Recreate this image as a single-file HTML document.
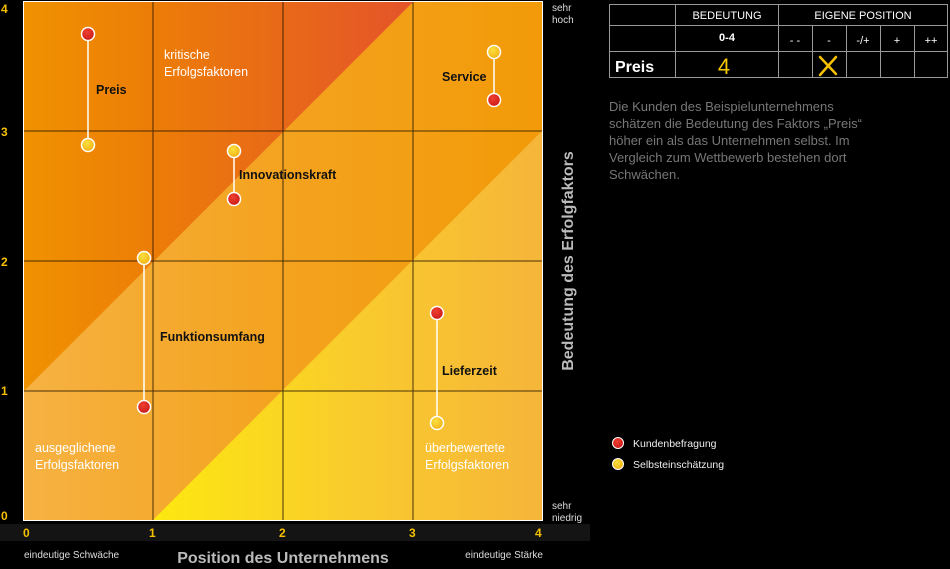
<!DOCTYPE html>
<html><head><meta charset="utf-8"><style>
html,body{margin:0;padding:0;background:#000;}
svg{display:block;font-family:"Liberation Sans",sans-serif;}
</style></head><body>
<svg width="950" height="569" viewBox="0 0 950 569" xmlns="http://www.w3.org/2000/svg">
<defs>
<linearGradient id="gTop" x1="23" y1="0" x2="413" y2="0" gradientUnits="userSpaceOnUse">
<stop offset="0" stop-color="#f09200"/><stop offset="0.35" stop-color="#ec7c08"/><stop offset="1" stop-color="#e4542a"/></linearGradient>
<linearGradient id="gMid" x1="23" y1="0" x2="543" y2="0" gradientUnits="userSpaceOnUse">
<stop offset="0" stop-color="#f6b242"/><stop offset="0.45" stop-color="#f4a422"/><stop offset="1" stop-color="#f29a08"/></linearGradient>
<linearGradient id="gLow" x1="153" y1="0" x2="543" y2="0" gradientUnits="userSpaceOnUse">
<stop offset="0" stop-color="#fce810"/><stop offset="0.5" stop-color="#f9cc2c"/><stop offset="1" stop-color="#f6b53a"/></linearGradient>
<radialGradient id="rd" cx="0.4" cy="0.35" r="0.7"><stop offset="0" stop-color="#f04030"/><stop offset="1" stop-color="#c81818"/></radialGradient>
<radialGradient id="yd" cx="0.4" cy="0.35" r="0.7"><stop offset="0" stop-color="#fde040"/><stop offset="1" stop-color="#f0b010"/></radialGradient>
</defs>
<rect x="0" y="0" width="950" height="569" fill="#000"/>
<!-- x label band -->
<rect x="0" y="524" width="590" height="17" fill="#141414"/>
<!-- plot -->
<rect x="23" y="1" width="520" height="520" fill="#fff"/>
<polygon points="24,2 542,2 542,520 24,520" fill="url(#gMid)"/>
<polygon points="24,391 24,2 413,2" fill="url(#gTop)"/>
<polygon points="153,520 542,131 542,520" fill="url(#gLow)"/>
<g stroke="#2a1a00" stroke-width="1" opacity="0.85">
<line x1="153" y1="2" x2="153" y2="520"/><line x1="283" y1="2" x2="283" y2="520"/><line x1="413" y1="2" x2="413" y2="520"/>
<line x1="24" y1="131" x2="542" y2="131"/><line x1="24" y1="261" x2="542" y2="261"/><line x1="24" y1="391" x2="542" y2="391"/>
</g>
<!-- connectors -->
<g stroke="#fff" stroke-width="1.5">
<line x1="88" y1="34" x2="88" y2="145"/><line x1="234" y1="151" x2="234" y2="199"/>
<line x1="144" y1="258" x2="144" y2="407"/><line x1="494" y1="52" x2="494" y2="100"/>
<line x1="437" y1="313" x2="437" y2="423"/>
</g>
<g stroke="#fff" stroke-width="1.5">
<circle cx="88" cy="34" r="6.5" fill="url(#rd)"/><circle cx="88" cy="145" r="6.5" fill="url(#yd)"/>
<circle cx="234" cy="151" r="6.5" fill="url(#yd)"/><circle cx="234" cy="199" r="6.5" fill="url(#rd)"/>
<circle cx="144" cy="258" r="6.5" fill="url(#yd)"/><circle cx="144" cy="407" r="6.5" fill="url(#rd)"/>
<circle cx="494" cy="52" r="6.5" fill="url(#yd)"/><circle cx="494" cy="100" r="6.5" fill="url(#rd)"/>
<circle cx="437" cy="313" r="6.5" fill="url(#rd)"/><circle cx="437" cy="423" r="6.5" fill="url(#yd)"/>
</g>
<g font-size="12.5" fill="#fff">
<text x="164" y="59">kritische</text><text x="164" y="76">Erfolgsfaktoren</text>
<text x="35" y="452">ausgeglichene</text><text x="35" y="469">Erfolgsfaktoren</text>
<text x="425" y="452">überbewertete</text><text x="425" y="469">Erfolgsfaktoren</text>
</g>
<g font-size="12.5" font-weight="bold" fill="#111">
<text x="96" y="94">Preis</text><text x="442" y="81">Service</text>
<text x="239" y="179">Innovationskraft</text><text x="160" y="341">Funktionsumfang</text>
<text x="442" y="375">Lieferzeit</text>
</g>
<!-- y ticks -->
<g font-size="12" font-weight="bold" fill="#f5c000">
<text x="1" y="13">4</text><text x="1" y="136">3</text><text x="1" y="266">2</text><text x="1" y="395">1</text><text x="1" y="520">0</text>
<text x="23" y="537">0</text><text x="149" y="537">1</text><text x="279" y="537">2</text><text x="409" y="537">3</text><text x="535" y="537">4</text>
</g>
<g font-size="10" fill="#ddd">
<text x="552" y="11">sehr</text><text x="552" y="23">hoch</text>
<text x="552" y="509">sehr</text><text x="552" y="521">niedrig</text>
<text x="24" y="558">eindeutige Schwäche</text>
<text x="543" y="558" text-anchor="end">eindeutige Stärke</text>
</g>
<text x="283" y="563" font-size="16" font-weight="bold" fill="#bbb" text-anchor="middle">Position des Unternehmens</text>
<text transform="translate(573,261) rotate(-90)" font-size="16" font-weight="bold" fill="#bbb" text-anchor="middle">Bedeutung des Erfolgfaktors</text>
<!-- table -->
<g stroke="#999" stroke-width="1" fill="none">
<rect x="609.5" y="4.5" width="338" height="73"/>
<line x1="609" y1="25.5" x2="948" y2="25.5"/><line x1="609" y1="51.5" x2="948" y2="51.5"/>
<line x1="675.5" y1="4" x2="675.5" y2="78"/><line x1="778.5" y1="4" x2="778.5" y2="78"/>
<line x1="812.5" y1="25" x2="812.5" y2="78"/><line x1="846.5" y1="25" x2="846.5" y2="78"/>
<line x1="880.5" y1="25" x2="880.5" y2="78"/><line x1="914.5" y1="25" x2="914.5" y2="78"/>
</g>
<g font-size="11" fill="#fff" text-anchor="middle">
<text x="727" y="19">BEDEUTUNG</text><text x="863" y="19">EIGENE POSITION</text>
<text x="727" y="41" font-weight="bold">0-4</text>
<text x="795" y="44">- -</text><text x="829" y="44">-</text><text x="863" y="44">-/+</text><text x="897" y="44">+</text><text x="931" y="44">++</text>
</g>
<text x="615" y="72" font-size="16" font-weight="bold" fill="#fff">Preis</text>
<text x="724" y="74" font-size="22" fill="#f5c800" text-anchor="middle">4</text>
<g stroke="#f5c000" stroke-width="2.5" stroke-linecap="round"><line x1="820" y1="57" x2="836" y2="74"/><line x1="836" y1="57" x2="820" y2="75"/></g>
<g font-size="13" fill="#777">
<text x="609" y="111">Die Kunden des Beispielunternehmens</text>
<text x="609" y="128">schätzen die Bedeutung des Faktors „Preis“</text>
<text x="609" y="145">höher ein als das Unternehmen selbst. Im</text>
<text x="609" y="162">Vergleich zum Wettbewerb bestehen dort</text>
<text x="609" y="179">Schwächen.</text>
</g>
<!-- legend -->
<circle cx="618" cy="443" r="5.5" fill="url(#rd)" stroke="#fff" stroke-width="1"/>
<circle cx="618" cy="464" r="5.5" fill="url(#yd)" stroke="#fff" stroke-width="1"/>
<g font-size="10.5" fill="#eee"><text x="633" y="447">Kundenbefragung</text><text x="633" y="468">Selbsteinschätzung</text></g>
</svg>
</body></html>
